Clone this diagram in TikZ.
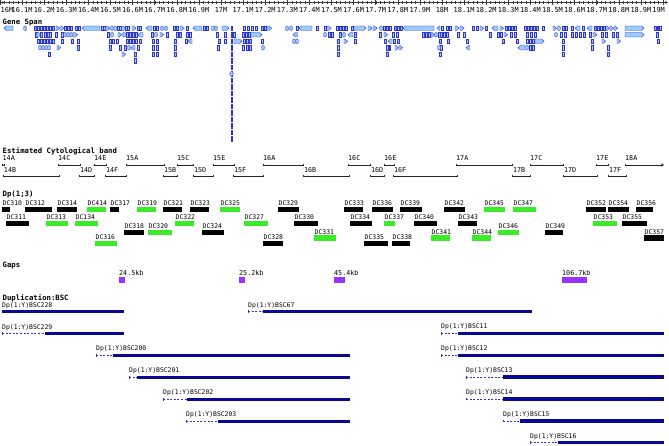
\documentclass[tikz,border=0pt]{standalone}
\usepackage{fontspec}
\newfontfamily\gmono{DejaVu Sans Mono}
\usetikzlibrary{arrows.meta}
\definecolor{gblue}{RGB}{51,51,204}
\definecolor{glight}{RGB}{153,204,255}
\definecolor{dcgreen}{RGB}{60,235,40}
\definecolor{dcblack}{RGB}{0,0,0}
\definecolor{gappurple}{RGB}{153,51,255}
\definecolor{dupblue}{RGB}{8,8,150}
\definecolor{rulegray}{RGB}{60,60,60}
\begin{document}
\begin{tikzpicture}[x=1pt,y=-1pt,
  ttl/.style={inner sep=0pt, anchor=base west, font=\gmono\bfseries\fontsize{7.3}{8}\selectfont},
  rlab/.style={inner sep=0pt, anchor=base, font=\gmono\fontsize{6.9}{8}\selectfont},
  slab/.style={inner sep=0pt, anchor=base west, font=\gmono\fontsize{6.4}{7}\selectfont},
  clab/.style={inner sep=0pt, anchor=base west, font=\gmono\fontsize{6.7}{7}\selectfont},
  gene/.style={draw=gblue, fill=glight, line width=0.4pt},
  cytoline/.style={draw=black!85, line width=0.7pt},
  dupbar/.style={fill=dupblue},
  dupdash/.style={draw=gblue, line width=0.6pt, dash pattern=on 2pt off 1.6pt}]
\fill[white] (0,0) rectangle (669,446);
\path[use as bounding box] (0,0) rectangle (669,446);

% ---------------- ruler ----------------
\draw[rulegray, line width=0.6pt, {Stealth[length=3pt,width=3pt]}-{Stealth[length=3pt,width=3pt]}] (0.3,2.5) -- (668,2.5);
\foreach \i in {0,...,150} \draw[rulegray, line width=0.35pt] ({\i*4.42},1.3) -- ({\i*4.42},3.7);
\foreach \i in {0,...,30} \draw[rulegray, line width=0.5pt] ({\i*22.1},0.3) -- ({\i*22.1},4.7);
\node[rlab, anchor=base west] (r0) at (0.5,12.9) {16M};
\foreach \i/\t in {1/16.1M,2/16.2M,3/16.3M,4/16.4M,5/16.5M,6/16.6M,7/16.7M,8/16.8M,9/16.9M,10/17M,
  11/17.1M,12/17.2M,13/17.3M,14/17.4M,15/17.5M,16/17.6M,17/17.7M,18/17.8M,19/17.9M,20/18M,
  21/18.1M,22/18.2M,23/18.3M,24/18.4M,25/18.5M,26/18.6M,27/18.7M,28/18.8M,29/18.9M}
  \node[rlab] (r\i) at ({\i*22.1},12.9) {\t};
\node[rlab, anchor=base east] (r30) at (665,12.9) {19M};

% ---------------- gene span ----------------
\node[ttl] (genespan) at (2.5,25) {Gene Span};
% bars
\foreach \y/\xs in {
 26/{35,38,41,44,47,50,53,65,68,71,76,79,102,104,118,120,126,128,138,140,154,157,174,177,187,204,207,244,248,252,256,262,265,297,317,325,337,340,343,346,352,384,387,390,395,398,401,442,447,450,473,477,486,506,509,512,515,525,528,531,534,537,543,563,566,572,583,595,598,601,604,655,657.5,660},
 32.5/{36,41,45,48,50,56,62,108,127,130,133,136,152,167,177,180,187,190,217,225,234,243,246,249,329,332,340,355,380,393,397,423,426,429,439,441,444,447,458,464,490,498,501,511,515,527,531,535,561,565,572,576,580,584,590,602,606,613,617,657},
 39/{38,41,44,47,50,53,62,72,78,110,113,117,127,130,133,136,140,153,157,175,186,219,225,244,247,250,262,338,355,385,394,398,440,448,467,503,517,527,530,533,563,592,658},
 45.5/{78,110,120,125,138,153,157,175,218,243,247,250,338,387,389.5,441,530,533,563,592,608},
 52/{49,135,153,157,175,338,387,440,563,608},
 58.5/{135}}
 { \foreach \x in \xs \path[gene] (\x-0.7,\y) rectangle (\x+0.7,\y+4.5); }
% column
\foreach \k in {0,...,17} \path[gene] (230.8,26+\k*6.5) rectangle (232.2,30.5+\k*6.5);
\path[gene, rounded corners=1.2pt] (229.9,71.5) rectangle (233.1,76);
% ovals
\foreach \y/\xs in {
 26/{25,107,115,123,162,166,213,216,287,291,381,559},
 32.5/{38,65,68,71,112,124,156,325,344,436,556},
 39/{294,297},
 45.5/{40,43,46,49,129,263,439,527}}
 { \foreach \x in \xs \path[gene, rounded corners=1.2pt] (\x-1.5,\y) rectangle (\x+1.5,\y+4.5); }
% right arrows
\foreach \y/\ps in {
 26/{56/59.5,60/64,132/136,180/184,222/229,267/271.5,327/331,354/366,368/372,373/377,455/459,460/464,480/483.5,500/503.5,553/556.5,606/609.5,610/613.5,614/617.5,625/644},
 32.5/{73/77.5,118/121.5,160/163.5,251/262,384/387.5,431/434.5,504/507.5,593/597,625/644},
 39/{234/242,344/347.5,535/544,602/605.5,617/620.5},
 45.5/{57/60.5,395/398.5,399/402.5},
 52/{122/125.5}}
 { \foreach \a/\b in \ps \path[gene] (\a,\y) -- (\b-2.4,\y) -- (\b,\y+2.25) -- (\b-2.4,\y+4.5) -- (\a,\y+4.5) -- cycle; }
% left arrows
\foreach \y/\ps in {
 26/{4/13,82/100,109/113,146/152,193/202,299/312,403/434,437/440,492/498,575/580,587/592},
 32.5/{138/143,293/297.5,348/353},
 39/{188/192,388/392},
 45.5/{131/135,466/469.5,518/525}}
 { \foreach \a/\b in \ps \path[gene] (\b,\y) -- (\a+2.4,\y) -- (\a,\y+2.25) -- (\a+2.4,\y+4.5) -- (\b,\y+4.5) -- cycle; }

% ---------------- cytological bands ----------------
\node[ttl] (cytotitle) at (2.5,154) {Estimated Cytological band};
\node[clab] (c14A) at (2.5,160.7) {14A};
\draw[cytoline] (2.5,165) -- (4.5,165) (2.5,163.8) -- (2.5,166.2) (4.5,163.8) -- (4.5,166.2);
\foreach \a/\b/\t in {58/80/14C, 94/106/14E, 126/164/15A, 177/193/15C, 213/234/15E, 263/303/16A, 348/370/16C, 384/394/16E, 456/512/17A, 530/563/17C, 596/608/17E}
 { \draw[cytoline] (\a,165) -- (\b,165) (\a,163.8) -- (\a,166.2) (\b,163.8) -- (\b,166.2);
   \node[clab] (c\t) at (\a,160.7) {\t}; }
\node[clab] (c18A) at (625,160.7) {18A};
\draw[cytoline, -{Stealth[length=3pt,width=3pt]}] (625,165) -- (664,165);
\draw[cytoline] (625,163.8) -- (625,166.2);
\foreach \a/\b/\t in {3/59/14B, 79/94/14D, 105/126/14F, 163/177/15B, 193/213/15D, 233/263/15F, 303/349/16B, 370/384/16D, 393/457/16F, 512/530/17B, 563/597/17D, 608/626/17F}
 { \draw[cytoline] (\a,176.3) -- (\b,176.3) (\a,175.1) -- (\a,177.5) (\b,175.1) -- (\b,177.5);
   \node[clab] (c\t) at (\a+0.8,172.3) {\t}; }

% ---------------- Dp(1;3) ----------------
\node[ttl] (dptitle) at (2.5,197) {Dp(1;3)};
\foreach \a/\b/\t/\c/\n in {
 2/10/206.8/dcblack/DC310, 25/52/206.8/dcblack/DC312, 57/77/206.8/dcblack/DC314, 87/106/206.8/dcgreen/DC414,
 110/119/206.8/dcblack/DC317, 137/156/206.8/dcgreen/DC319, 163/182/206.8/dcblack/DC321, 190/209/206.8/dcblack/DC323,
 220/240/206.8/dcgreen/DC325, 278/299/206.8/dcblack/DC329, 344/363/206.8/dcblack/DC333, 372/393/206.8/dcblack/DC336,
 400/422/206.8/dcblack/DC339, 444/465/206.8/dcblack/DC342, 484/505/206.8/dcgreen/DC345, 513/536/206.8/dcgreen/DC347,
 586/606/206.8/dcblack/DC352, 608/629/206.8/dcblack/DC354, 636/653/206.8/dcblack/DC356,
 6/29/221/dcblack/DC311, 46/68/221/dcgreen/DC313, 75/98/221/dcgreen/DC134, 175/194/221/dcgreen/DC322,
 244/268/221/dcgreen/DC327, 294/318/221/dcblack/DC330, 350/372/221/dcblack/DC334, 384/395/221/dcgreen/DC337,
 414/437/221/dcblack/DC340, 458/477/221/dcblack/DC343, 593/617/221/dcgreen/DC353, 622/647/221/dcblack/DC355,
 124/144/230.2/dcblack/DC318, 148/172/230.2/dcgreen/DC320, 202/224/230.2/dcblack/DC324, 498/519/230.2/dcgreen/DC346,
 545/563/230.2/dcblack/DC349,
 314/336/235.4/dcgreen/DC331, 431/450/235.4/dcgreen/DC341, 472/491/235.4/dcgreen/DC344, 644/664/235.4/dcblack/DC357,
 95/117/240.6/dcgreen/DC316, 263/283/240.6/dcblack/DC328, 364/388/240.6/dcblack/DC335, 392/410/240.6/dcblack/DC338}
 { \fill[\c] (\a,\t) rectangle (\b,\t+5.2);
   \node[slab] (d\n) at (\a+0.5,\t-1.3) {\n}; }

% ---------------- Gaps ----------------
\node[ttl] (gapstitle) at (2.5,267.3) {Gaps};
\foreach \a/\b/\t [count=\i] in {119/125/24.5kb, 239/245/25.2kb, 334/345/45.4kb, 562/587/106.7kb}
 { \fill[gappurple] (\a,277.3) rectangle (\b,282.7);
   \node[clab] (g\i) at (\a,275.7) {\t}; }

% ---------------- Duplication:BSC ----------------
\node[ttl] (duptitle) at (2.5,300.3) {Duplication:BSC};
\node[slab] (b228) at (2,307) {Dp(1:Y)BSC228};
\fill[dupblue] (2,310) rectangle (124,313.4);
\foreach \a/\m/\b/\t/\n in {
 2/45/124/332/229, 96/113/350/353.9/200, 129/137/350/375.8/201, 163/187/350/397.7/202, 186/218/350/419.6/203,
 248/263/532/310/67, 441/458/664/331.6/11, 441/458/664/353.5/12, 466/503/664/375.4/13, 466/503/664/397.3/14,
 503/520/664/419.2/15, 530/558/664/441/16}
 { \draw[dupdash] (\a,\t+1.7) -- (\m,\t+1.7);
   \draw[gblue, line width=0.6pt] (\a,\t+0.3) -- (\a,\t+3.1);
   \fill[dupblue] (\m,\t) rectangle (\b,\t+3.4);
   \node[slab] (b\n) at (\a,\t-3) {Dp(1:Y)BSC\n}; }
\end{tikzpicture}
\end{document}
